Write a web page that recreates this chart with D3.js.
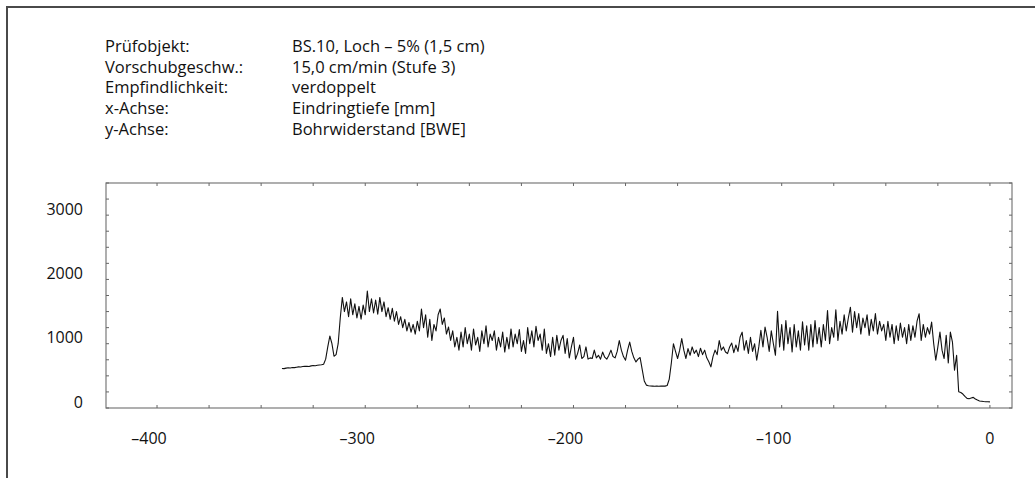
<!DOCTYPE html>
<html>
<head>
<meta charset="utf-8">
<script src="https://cdn.jsdelivr.net/npm/d3@7/dist/d3.min.js"></script>
<style>
  html, body { margin: 0; padding: 0; background: #fff; }
  svg { display: block; }
  text { font-family: "Open Sans", "Noto Sans", sans-serif; fill: #111; }
</style>
</head>
<body>
<svg id="chart" width="1035" height="478"></svg>
<script>
// Test header: label / value pairs
const headerLabels = ["Prüfobjekt:", "Vorschubgeschw.:", "Empfindlichkeit:", "x-Achse:", "y-Achse:"];
const headerValues = ["BS.10, Loch – 5% (1,5 cm)", "15,0 cm/min (Stufe 3)", "verdoppelt", "Eindringtiefe [mm]", "Bohrwiderstand [BWE]"];

// Axis ticks
const xTickValues = [-400, -300, -200, -100, 0];
const xTickLabels = ["–400", "–300", "–200", "–100", "0"];
const yTickValues = [0, 1000, 2000, 3000];
const yTickLabels = ["0", "1000", "2000", "3000"];

// Drilling resistance profile, one reading per mm of penetration depth
const depthStart = -340;   // mm
const depthStep = 1;       // mm
const resistance = [
  615, 612, 620, 625, 622, 630, 628, 635, 640, 638,
  645, 648, 650, 645, 655, 660, 658, 665, 670, 672,
  680, 760, 950, 1120, 1000, 805, 830, 1000, 1400, 1720,
  1500, 1650, 1420, 1700, 1450, 1620, 1400, 1580, 1380, 1600,
  1450, 1820, 1500, 1700, 1480, 1680, 1460, 1720, 1500, 1650,
  1420, 1560, 1380, 1550, 1350, 1500, 1300, 1420, 1250, 1380,
  1200, 1330, 1180, 1300, 1150, 1350, 1200, 1540, 1250, 1450,
  1100, 1380, 1050, 1300, 1200, 1450, 1540, 1300, 1400, 1150,
  1260, 1050, 1200, 950, 1100, 900, 1180, 950, 1250, 1000,
  1150, 900, 1230, 980, 1100, 880, 1200, 1000, 1280, 950,
  1150, 1050, 1200, 900, 1100, 950, 1180, 870, 1100, 920,
  1230, 950, 1150, 1000, 1220, 880, 1050, 850, 1250, 1000,
  1200, 950, 1270, 1050, 1150, 900, 1230, 850, 1000, 800,
  1100, 820, 1130, 900, 1050, 1130, 850, 1080, 780, 950,
  1100, 760, 850, 980, 770, 800, 950, 760, 780, 770,
  900, 780, 820, 760, 870, 790, 760, 820, 900, 800,
  780, 880, 1050, 900, 800, 743, 900, 1026, 880, 780,
  717, 760, 785, 600, 420, 356, 345, 342, 340, 338,
  340, 338, 340, 342, 340, 350, 450, 700, 1000, 880,
  770, 900, 1080, 900, 770, 924, 820, 950, 850, 900,
  800, 930, 830, 900, 780, 720, 640, 800, 900, 830,
  1050, 900, 950, 870, 847, 950, 1011, 860, 980, 880,
  1100, 1180, 900, 1050, 850, 1100, 880, 1000, 743, 950,
  1207, 950, 1259, 1100, 880, 1200, 1000, 820, 1506, 950,
  1300, 900, 1362, 1000, 1250, 870, 1300, 950, 1200, 900,
  1340, 980, 1280, 900, 1300, 950, 1362, 1000, 1250, 950,
  1300, 1050, 1517, 1000, 1250, 1100, 1527, 1050, 1350, 1150,
  1450, 1200, 1400, 1568, 1180, 1500, 1250, 1470, 1150, 1400,
  1250, 1450, 1130, 1380, 1200, 1470, 1150, 1350, 1200, 1300,
  1050, 1350, 1100, 1300, 1000, 1280, 1050, 1320, 1100, 1250,
  1000, 1300, 1050, 1280, 1100, 1350, 1466, 1050, 1300, 1100,
  1250, 1150, 1336, 1000, 743, 950, 1181, 900, 769, 1130,
  701, 1181, 1026, 588, 820, 252, 240, 217, 180, 150,
  145, 155, 165, 140, 124, 110, 105, 100, 98, 98, 95
];

const svg = d3.select("#chart");

// Page frame (top and left edges)
svg.append("path")
  .attr("d", "M7,478 L7,7 L1035,7")
  .attr("fill", "none")
  .attr("stroke", "#4a4a4a")
  .attr("stroke-width", 2);

// Header block
const header = svg.append("g").attr("font-size", 16.5);
headerLabels.forEach((t, i) => {
  header.append("text").attr("x", 105).attr("y", 52 + i * 20.7).text(t);
  header.append("text").attr("x", 292).attr("y", 52 + i * 20.7).text(headerValues[i]);
});

// Plot area
const plot = { left: 106, right: 1012, top: 183, bottom: 408 };
const x = d3.scaleLinear().domain([-424.5, 10.6]).range([plot.left, plot.right]);
const y = d3.scaleLinear().domain([0, 3500]).range([plot.bottom, plot.top]);

// Frame of the plot area
svg.append("rect")
  .attr("x", plot.left).attr("y", plot.top)
  .attr("width", plot.right - plot.left).attr("height", plot.bottom - plot.top)
  .attr("fill", "none")
  .attr("stroke", "#7a7a7a")
  .attr("stroke-width", 1.2);

// Small inward ticks on all four sides
const xMinor = d3.range(-425, 11, 25).filter(v => v >= -424.5);
const yMinor = d3.range(0, 3501, 250);
const tickLen = 3;
const tickStyle = g => g.attr("stroke", "#666").attr("stroke-width", 1);

svg.append("g").call(tickStyle).selectAll("line").data(xMinor).join("line")
  .attr("x1", d => x(d)).attr("x2", d => x(d))
  .attr("y1", plot.bottom).attr("y2", plot.bottom - tickLen);
svg.append("g").call(tickStyle).selectAll("line").data(xMinor).join("line")
  .attr("x1", d => x(d)).attr("x2", d => x(d))
  .attr("y1", plot.top).attr("y2", plot.top + tickLen);
svg.append("g").call(tickStyle).selectAll("line").data(yMinor).join("line")
  .attr("x1", plot.left).attr("x2", plot.left + tickLen)
  .attr("y1", d => y(d)).attr("y2", d => y(d));
svg.append("g").call(tickStyle).selectAll("line").data(yMinor).join("line")
  .attr("x1", plot.right).attr("x2", plot.right - tickLen)
  .attr("y1", d => y(d)).attr("y2", d => y(d));

// Tick labels
svg.append("g").attr("font-size", 16)
  .selectAll("text").data(xTickValues).join("text")
  .attr("x", d => x(d) + (d < 0 ? -8 : 0))
  .attr("y", 444)
  .attr("text-anchor", "middle")
  .text((d, i) => xTickLabels[i]);

svg.append("g").attr("font-size", 16)
  .selectAll("text").data(yTickValues).join("text")
  .attr("x", 83)
  .attr("y", d => y(d) - 6)
  .attr("dy", "0.36em")
  .attr("text-anchor", "end")
  .text((d, i) => yTickLabels[i]);

// Resistance trace
const points = resistance.map((v, i) => ({ depth: depthStart + i * depthStep, value: v }));
const line = d3.line().x(d => x(d.depth)).y(d => y(d.value));
svg.append("path")
  .datum(points)
  .attr("d", line)
  .attr("fill", "none")
  .attr("stroke", "#111")
  .attr("stroke-width", 1.1)
  .attr("stroke-linejoin", "round");
</script>
</body>
</html>
